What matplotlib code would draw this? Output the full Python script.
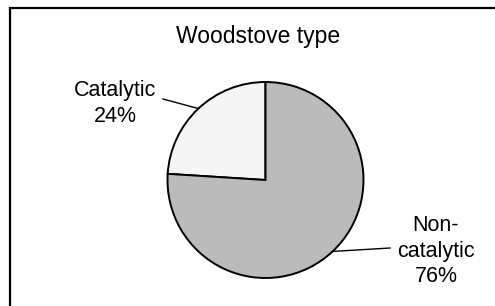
import numpy as np
import matplotlib
matplotlib.use("Agg")
import matplotlib.pyplot as plt
from matplotlib.patches import Rectangle

categories = ["Catalytic", "Non-catalytic"]
label_lines = ["Catalytic", "Non-\ncatalytic"]
shares = [24, 76]
colors = ["#f5f5f5", "#bbbbbb"]
title = "Woodstove type"

W, H = 495, 306
fig = plt.figure(figsize=(W / 100, H / 100), dpi=100)
ax = fig.add_axes([0, 0, 1, 1])

plt.rcParams["font.family"] = ["Liberation Sans", "DejaVu Sans"]

cx, cy, r = 265.5, H - 180, 98
wedges, _ = ax.pie(shares, colors=colors, startangle=90, counterclock=True,
                   center=(cx, cy), radius=r, frame=True,
                   wedgeprops=dict(edgecolor="black", linewidth=1.4))
ax.set_xlim(0, W)
ax.set_ylim(0, H)
ax.axis("off")

# frame around chart area
ax.add_patch(Rectangle((10, -20), 600, H - 8 + 20, fill=False,
                       edgecolor="black", linewidth=1.6))

ax.text(258, H - 37, title, ha="center", va="center", fontsize=16.5,
        family=["Liberation Sans", "DejaVu Sans"])

label_pos = [(115, H - 103.5), (436, H - 251)]
leader_end = [(163, H - 99), (390, H - 248)]
for w, name, val, (tx, ty), (lx, ly) in zip(wedges, label_lines, shares, label_pos, leader_end):
    mid = np.deg2rad((w.theta1 + w.theta2) / 2)
    px, py = cx + r * np.cos(mid), cy + r * np.sin(mid)
    ax.plot([px, lx], [py, ly], color="black", linewidth=1.0)
    ax.text(tx, ty, f"{name}\n{val}%", ha="center", va="center",
            fontsize=15.5, linespacing=1.27,
            family=["Liberation Sans", "DejaVu Sans"])

fig.savefig("out.png", dpi=100)
